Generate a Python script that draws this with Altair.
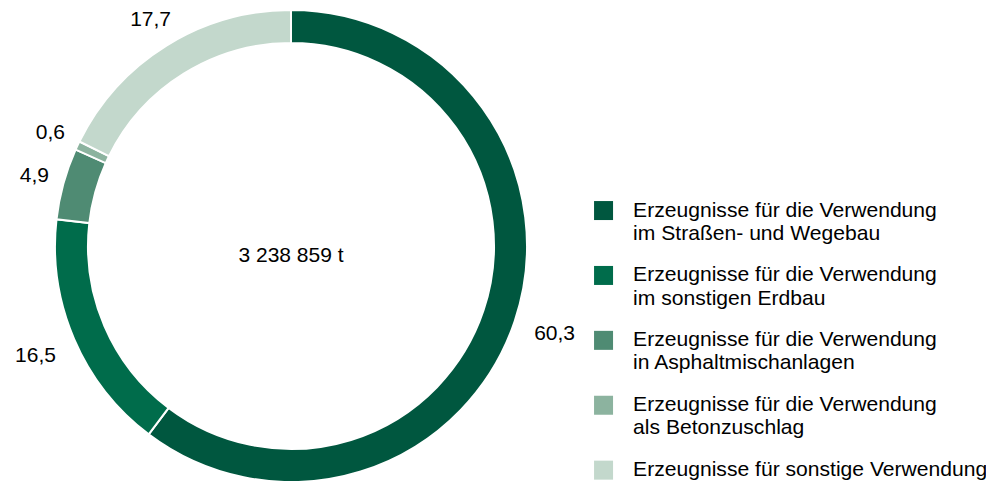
import altair as alt
import pandas as pd

categories = [
    "Erzeugnisse für die Verwendung\nim Straßen- und Wegebau",
    "Erzeugnisse für die Verwendung\nim sonstigen Erdbau",
    "Erzeugnisse für die Verwendung\nin Asphaltmischanlagen",
    "Erzeugnisse für die Verwendung\nals Betonzuschlag",
    "Erzeugnisse für sonstige Verwendung",
]
values = [60.3, 16.5, 4.9, 0.6, 17.7]
labels = ["60,3", "16,5", "4,9", "0,6", "17,7"]
colors = ["#00573f", "#006c4b", "#4f8b73", "#8cb39f", "#c3d8cc"]
center_text = "3 238 859 t"

df = pd.DataFrame({
    "cat": categories,
    "value": values,
    "label": labels,
    "order": list(range(len(categories))),
})

FONT = "Liberation Sans"
CX, CY = 283, 238

base = alt.Chart(df).encode(
    theta=alt.Theta("value:Q", stack=True),
    order=alt.Order("order:Q"),
)

arcs = base.mark_arc(radius=236, radius2=203, stroke="white", strokeWidth=2).encode(
    x=alt.value(CX),
    y=alt.value(CY),
    color=alt.Color(
        "cat:N",
        sort=categories,
        scale=alt.Scale(domain=categories, range=colors),
        legend=alt.Legend(
            title=None,
            orient="none",
            legendX=585,
            legendY=192,
            symbolType="square",
            symbolSize=361,
            symbolStrokeWidth=0,
            symbolOpacity=1,
            labelFont=FONT,
            labelFontSize=21.1,
            labelColor="#000000",
            labelLimit=0,
            labelOffset=19,
            rowPadding=19.9,
            labelExpr="split(datum.label, '\\n')",
        ),
    ),
)

# Labels of wide, side-facing segments sit a little farther out
text_style = dict(font=FONT, fontSize=21, color="#000000", align="center", baseline="middle")

texts_side = base.mark_text(radius=278, **text_style).encode(
    x=alt.value(CX), y=alt.value(CY), text="label:N",
    opacity=alt.condition("datum.order < 2", alt.value(1), alt.value(0)),
)
texts_top = base.mark_text(radius=266, **text_style).encode(
    x=alt.value(CX), y=alt.value(CY), text="label:N",
    opacity=alt.condition("datum.order >= 2", alt.value(1), alt.value(0)),
)

center = alt.Chart(pd.DataFrame({"t": [center_text]})).mark_text(
    font=FONT, fontSize=21, color="#000000", align="center", baseline="middle"
).encode(x=alt.value(CX), y=alt.value(248), text="t:N")

chart = alt.layer(arcs, texts_side, texts_top, center).properties(
    width=978, height=473, padding=0,
    autosize=alt.AutoSizeParams(type="none"),
).configure_view(stroke=None)

chart.save("out.html", embed_options={"renderer": "svg", "actions": False})
